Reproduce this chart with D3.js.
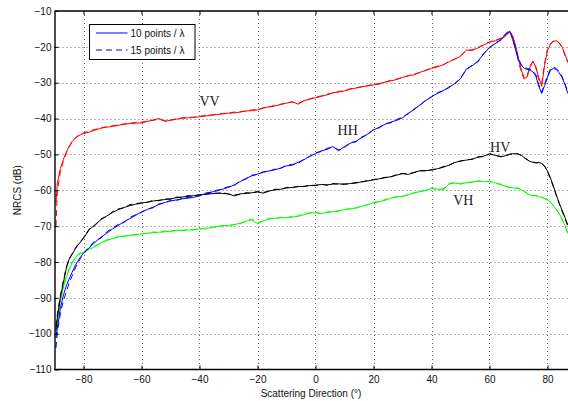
<!DOCTYPE html>
<html>
<head>
<meta charset="utf-8">
<script src="https://cdn.jsdelivr.net/npm/d3@7"></script>
<style>
  html, body { margin: 0; padding: 0; background: #fff; }
  svg { display: block; }
</style>
</head>
<body>
<svg id="chart" width="568" height="401"></svg>
<script>
// ---------- DATA ----------
const angles = [-89.5,-89,-88,-87,-86,-85,-84,-83,-82,-81,
  -80,-78,-76,-74,-72,-70,-68,-66,-64,-62,
  -60,-58,-56,-54,-52,-50,-48,-46,-44,-42,
  -40,-38,-36,-34,-32,-30,-28,-26,-24,-22,
  -20,-18,-16,-14,-12,-10,-8,-6,-4,-2,
  0,2,4,6,8,10,12,14,16,18,
  20,22,24,26,28,30,32,34,36,38,
  40,42,44,46,48,50,52,54,56,58,
  60,62,64,65,66,67,68,69,70,71,
  72,73,74,75,76,77,78,79,80,81,
  82,83,84,85,86,87];

const vv10 = [-63.5,-58,-54,-51.5,-49.5,-47.8,-46.5,-45.6,-45,-44.5,
  -44.2,-43.8,-43.2,-42.7,-42.4,-42.2,-41.9,-41.6,-41.4,-41.3,
  -41.2,-40.8,-40.4,-40.0,-40.8,-40.5,-40.2,-39.9,-39.8,-39.7,
  -39.5,-39.3,-39.0,-38.9,-38.7,-38.5,-38.4,-38.2,-37.9,-37.8,
  -37.6,-37.1,-36.7,-36.5,-36.1,-35.7,-35.3,-36.0,-35.0,-34.6,
  -34.2,-33.8,-33.4,-32.8,-32.6,-32.3,-31.8,-31.5,-31.1,-30.9,
  -30.6,-30.4,-29.8,-29.5,-29.1,-28.5,-28.1,-27.8,-27.1,-26.6,
  -26.0,-25.6,-25.0,-24.2,-23.4,-22.7,-20.9,-21.0,-20.3,-19.5,
  -18.7,-18.3,-17.7,-17.4,-16.6,-15.8,-16.9,-19.6,-23.2,-26.5,
  -28.8,-28.4,-25.6,-24.1,-25.6,-28.6,-31.0,-25.2,-21.0,-19.3,
  -18.5,-18.3,-18.8,-20.0,-22.0,-24.1];
const vv15 = [-70,-60,-55,-52,-49.8,-48,-46.6,-45.5,-44.8,-44.3,
  -44.0,-43.5,-43.0,-42.6,-42.3,-42.0,-41.8,-41.5,-41.3,-41.1,
  -41.0,-40.7,-40.5,-40.2,-40.6,-40.4,-40.1,-39.8,-39.7,-39.6,
  -39.4,-39.1,-39.1,-38.8,-38.6,-38.4,-38.2,-38.1,-37.9,-37.6,
  -37.5,-37.0,-36.8,-36.3,-36.0,-35.6,-35.4,-35.8,-35.1,-34.5,
  -34.0,-33.7,-33.2,-32.9,-32.4,-32.2,-31.7,-31.4,-31.2,-30.8,
  -30.5,-30.2,-29.9,-29.3,-29.0,-28.6,-28.0,-27.6,-27.2,-26.5,
  -25.9,-25.4,-25.1,-24.0,-23.5,-22.5,-21.1,-20.8,-20.2,-19.4,
  -18.6,-18.1,-17.6,-17.2,-16.4,-15.9,-17.3,-20.2,-24.0,-27.3,
  -29.0,-28.0,-25.2,-24.0,-25.9,-29.2,-30.3,-24.6,-20.7,-19.1,
  -18.4,-18.4,-18.9,-20.2,-22.3,-24.4];

const hh10 = [-101,-98.4,-93,-89.5,-86.8,-84.8,-83,-81.2,-79.8,-78.6,
  -77.5,-76.0,-74.5,-73.1,-72.0,-70.8,-69.8,-68.8,-67.9,-67.0,
  -66.0,-65.4,-64.7,-64.0,-63.4,-63.0,-62.7,-62.4,-62.2,-62.0,
  -61.5,-61.0,-60.6,-60.0,-59.7,-59.2,-58.5,-57.6,-56.7,-56.0,
  -55.5,-55.0,-54.6,-54.3,-53.8,-53.2,-53.0,-52.2,-51.5,-50.5,
  -49.8,-49.0,-48.6,-47.8,-49.0,-47.8,-46.9,-46.3,-45.3,-44.3,
  -43.2,-42.4,-41.6,-41.0,-40.5,-39.8,-38.5,-37.5,-36.2,-35.0,
  -33.9,-33.0,-32.2,-31.4,-30.2,-28.9,-26.2,-25.3,-24.0,-22.0,
  -20.1,-19.1,-18.0,-17.0,-16.2,-15.6,-18.0,-20.8,-23.7,-25.2,
  -26.0,-26.3,-26.5,-27.0,-28.2,-31.0,-33.0,-30.8,-28.5,-26.6,
  -26.0,-26.3,-27.2,-28.5,-30.5,-33.0];
const hh15 = [-104,-99.5,-94.5,-91,-88.5,-86,-84,-82,-80.3,-79,
  -77.8,-75.8,-74.0,-73.4,-71.6,-70.6,-69.5,-69.0,-67.6,-66.8,
  -66.2,-65.2,-64.9,-63.8,-63.6,-62.8,-62.9,-62.3,-62.0,-61.8,
  -61.6,-60.8,-60.5,-60.2,-59.5,-59.0,-58.7,-57.4,-56.9,-55.8,
  -55.6,-54.8,-54.7,-54.1,-53.9,-53.0,-52.8,-52.5,-51.3,-50.6,
  -49.6,-49.2,-48.3,-48.0,-48.7,-48.1,-46.7,-46.5,-45.1,-44.5,
  -43.0,-42.6,-41.4,-41.2,-40.3,-39.5,-38.7,-37.3,-36.4,-34.8,
  -34.0,-32.8,-32.3,-31.2,-30.4,-28.7,-26.4,-25.1,-24.2,-21.8,
  -20.3,-18.9,-18.1,-16.8,-16.0,-15.4,-17.6,-20.5,-23.4,-25.0,
  -25.8,-26.0,-26.2,-26.7,-27.8,-30.6,-32.6,-30.4,-28.0,-26.2,
  -25.7,-26.0,-26.9,-28.2,-30.2,-32.6];

const hv10 = [-99,-95.5,-90,-86,-82,-79.3,-78.0,-76.6,-75.4,-74.4,
  -73.4,-71.0,-69.6,-68.2,-67.2,-66.2,-65.4,-64.8,-64.3,-63.9,
  -63.6,-63.3,-63.0,-62.8,-62.6,-62.4,-62.1,-61.9,-61.7,-61.5,
  -61.3,-61.1,-61.0,-60.8,-60.9,-61.0,-61.6,-61.0,-60.9,-60.7,
  -60.5,-60.8,-60.2,-59.9,-59.7,-59.4,-59.2,-59.0,-58.9,-58.7,
  -58.6,-58.4,-58.5,-58.3,-58.2,-58.4,-58.1,-58.0,-57.6,-57.4,
  -57.1,-56.8,-56.5,-56.2,-55.8,-55.3,-55.6,-55.0,-54.6,-54.5,
  -54.4,-54.0,-53.6,-53.0,-52.3,-51.8,-51.6,-51.3,-50.8,-50.5,
  -49.8,-50.3,-50.6,-50.5,-50.2,-50.0,-49.8,-49.8,-49.9,-50.3,
  -50.9,-51.5,-52.0,-52.2,-52.3,-52.3,-52.5,-53.3,-54.6,-56.5,
  -58.8,-61.2,-63.5,-65.5,-67.5,-69.7];
const hv15 = [-98,-94.5,-89.5,-85.6,-81.7,-79.2,-77.8,-76.4,-75.2,-74.3,
  -73.2,-70.8,-69.8,-68.0,-67.3,-66.0,-65.2,-64.9,-64.0,-63.7,
  -63.5,-63.4,-62.8,-62.9,-62.4,-62.5,-61.9,-62.0,-61.5,-61.6,
  -61.2,-61.2,-60.8,-60.9,-60.6,-61.1,-61.3,-61.2,-60.7,-60.8,
  -60.3,-60.6,-60.3,-59.7,-59.8,-59.2,-59.3,-58.9,-59.0,-58.6,
  -58.7,-58.3,-58.6,-58.1,-58.3,-58.2,-58.2,-57.8,-57.7,-57.3,
  -57.0,-56.9,-56.4,-56.3,-55.6,-55.4,-55.4,-55.1,-54.5,-54.6,
  -54.2,-54.1,-53.4,-53.1,-52.2,-51.9,-51.5,-51.4,-50.7,-50.6,
  -49.9,-50.2,-50.7,-50.4,-50.3,-49.9,-49.9,-49.7,-50.0,-50.2,
  -51.0,-51.4,-52.1,-52.1,-52.4,-52.2,-52.6,-53.2,-54.8,-56.7,
  -59.0,-61.4,-63.7,-65.8,-67.8,-70.0];

const vh10 = [-101,-96.5,-91,-87.3,-84.5,-82.2,-80.4,-79.1,-78.2,-77.7,
  -77.3,-76.5,-75.7,-74.7,-74.0,-73.5,-73.0,-72.8,-72.6,-72.4,
  -72.2,-72.0,-71.8,-71.7,-71.6,-71.4,-71.3,-71.2,-71.1,-71.0,
  -70.8,-70.6,-70.5,-70.1,-69.9,-69.8,-69.6,-69.2,-68.6,-68.3,
  -69.3,-68.5,-68.0,-67.8,-67.7,-67.6,-67.5,-67.2,-66.8,-66.3,
  -66.3,-66.5,-66.2,-66.0,-65.8,-65.4,-65.2,-64.9,-64.5,-64.0,
  -63.5,-63.2,-62.8,-62.2,-61.9,-61.7,-61.3,-60.7,-60.4,-60.0,
  -59.5,-59.7,-59.9,-58.3,-58.0,-58.2,-57.9,-57.7,-57.5,-57.6,
  -57.6,-58.0,-58.5,-58.7,-59.0,-59.2,-59.3,-59.4,-59.5,-59.9,
  -60.4,-60.9,-61.3,-61.5,-61.6,-61.8,-62.0,-62.3,-62.7,-63.3,
  -64.3,-65.3,-66.5,-68.0,-69.8,-72.0];
const vh15 = [-99.5,-95.5,-90.5,-87,-84.2,-82,-80.2,-79.0,-78.0,-77.5,
  -77.0,-76.2,-75.4,-74.9,-73.8,-73.6,-72.8,-72.9,-72.4,-72.5,
  -72.0,-72.1,-71.6,-71.8,-71.4,-71.5,-71.1,-71.3,-70.9,-71.1,
  -70.6,-70.8,-70.3,-70.3,-69.8,-69.9,-69.5,-69.3,-68.7,-68.0,
  -69.0,-68.6,-67.8,-67.9,-67.5,-67.7,-67.3,-67.3,-66.6,-66.4,
  -66.1,-66.6,-66.0,-66.1,-65.6,-65.5,-65.0,-65.0,-64.3,-64.1,
  -63.3,-63.3,-62.6,-62.3,-61.7,-61.8,-61.1,-60.8,-60.2,-60.1,
  -59.3,-59.8,-59.6,-58.2,-57.8,-58.3,-57.7,-57.8,-57.3,-57.7,
  -57.4,-58.1,-58.3,-58.8,-58.8,-59.3,-59.1,-59.5,-59.3,-60.0,
  -60.2,-61.0,-61.1,-61.6,-61.4,-61.9,-61.8,-62.4,-62.5,-63.5,
  -64.1,-65.6,-66.3,-68.3,-69.6,-72.3];

const xTicks = [-80,-60,-40,-20,0,20,40,60,80];
const yTicks = [-110,-100,-90,-80,-70,-60,-50,-40,-30,-20,-10];
const legendLabels = ["10 points / \u03bb", "15 points / \u03bb"];
const curveLabels = [
  {text: "VV", x: -40, y: -36.6},
  {text: "HH", x: 7.6, y: -44.6},
  {text: "HV", x: 60.2, y: -49.3},
  {text: "VH", x: 47.5, y: -64.1}
];

// ---------- CHART ----------
const SANS = "'Liberation Sans', Arial, Helvetica, sans-serif";
const SERIF = "'Liberation Serif', 'Times New Roman', 'DejaVu Serif', serif";
const svg = d3.select("#chart");
const x = d3.scaleLinear().domain([-90, 87]).range([54.5, 567.8]);
const y = d3.scaleLinear().domain([-110, -10]).range([369.5, 11]);

// grid
const grid = svg.append("g").attr("stroke", "#444").attr("stroke-width", 0.8)
  .attr("stroke-dasharray", "1,3").attr("fill", "none");
grid.selectAll("line.gx").data(xTicks).join("line").attr("class", "gx")
  .attr("x1", d => Math.round(x(d)) + 0.5).attr("x2", d => Math.round(x(d)) + 0.5)
  .attr("y1", y(-10)).attr("y2", y(-110));
grid.selectAll("line.gy").data(yTicks.filter(d => d > -110 && d < -10)).join("line").attr("class", "gy")
  .attr("y1", d => Math.round(y(d)) + 0.5).attr("y2", d => Math.round(y(d)) + 0.5)
  .attr("x1", x(-90)).attr("x2", 568);

// series
const series = [
  {vals: vh10, color: "#00ff00", dash: null},
  {vals: vh15, color: "#00ff00", dash: "6,4"},
  {vals: hv10, color: "#000000", dash: null},
  {vals: hv15, color: "#000000", dash: "6,4"},
  {vals: vv10, color: "#ff0000", dash: null},
  {vals: vv15, color: "#ff0000", dash: "6,4"},
  {vals: hh10, color: "#0000ff", dash: null},
  {vals: hh15, color: "#0000ff", dash: "6,4"}
];
const line = d3.line().x((d, i) => x(angles[i])).y(d => y(d));
svg.append("g").selectAll("path").data(series).join("path")
  .attr("d", s => line(s.vals))
  .attr("fill", "none")
  .attr("stroke", s => s.color)
  .attr("stroke-width", 1)
  .attr("stroke-dasharray", s => s.dash)
  .attr("stroke-linejoin", "round");

// axes
const axB = svg.append("g").attr("transform", `translate(0,${y(-110)})`)
  .call(d3.axisBottom(x).tickValues(xTicks).tickSizeInner(-4).tickSizeOuter(0).tickPadding(6.5));
const axT = svg.append("g").attr("transform", `translate(0,${y(-10)})`)
  .call(d3.axisTop(x).tickValues(xTicks).tickSizeInner(-4).tickSizeOuter(0).tickFormat(""));
const axL = svg.append("g").attr("transform", `translate(${x(-90)},0)`)
  .call(d3.axisLeft(y).tickValues(yTicks).tickSizeInner(-4).tickSizeOuter(0).tickPadding(3));
[axB, axT, axL].forEach(a => {
  a.select(".domain").attr("stroke", "#000").attr("stroke-width", 1.4);
  a.selectAll(".tick line").attr("stroke", "#000").attr("stroke-width", 1);
  a.selectAll(".tick text").style("font-size", "10px").attr("fill", "#111")
    .style("font-family", SANS);
});
axB.select(".domain").attr("d", `M${x(-90)},0H568`);
axT.select(".domain").attr("d", `M${x(-90)},0H568`);

// axis labels
svg.append("text").attr("x", 311).attr("y", 397).attr("text-anchor", "middle")
  .style("font-family", SANS).style("font-size", "10px").attr("fill", "#111")
  .text("Scattering Direction (\u00b0)");
svg.append("text").attr("transform", `translate(21,${(y(-10) + y(-110)) / 2}) rotate(-90)`)
  .attr("text-anchor", "middle").style("font-family", SANS).style("font-size", "10px")
  .attr("fill", "#111").text("NRCS (dB)");

// curve labels
svg.append("g").selectAll("text").data(curveLabels).join("text")
  .attr("x", d => x(d.x)).attr("y", d => y(d.y))
  .style("font-family", SERIF).style("font-size", "14px")
  .attr("fill", "#222").text(d => d.text);

// legend
const lg = svg.append("g");
lg.append("rect").attr("x", 89.5).attr("y", 24.5).attr("width", 105.5).attr("height", 35)
  .attr("fill", "#fff").attr("stroke", "#000").attr("stroke-width", 1);
const lgRows = lg.selectAll("g.row").data(legendLabels).join("g").attr("class", "row")
  .attr("transform", (d, i) => `translate(0,${i === 0 ? 33 : 50})`);
lgRows.append("line").attr("x1", 96).attr("x2", 127.5).attr("y1", 0).attr("y2", 0)
  .attr("stroke", "#0000ff").attr("stroke-width", 1)
  .attr("stroke-dasharray", (d, i) => i === 0 ? null : "6,4");
lgRows.append("text").attr("x", 130.5).attr("y", 0).attr("dy", "0.35em")
  .style("font-family", SANS).style("font-size", "10px").attr("fill", "#111").text(d => d);
</script>
</body>
</html>
